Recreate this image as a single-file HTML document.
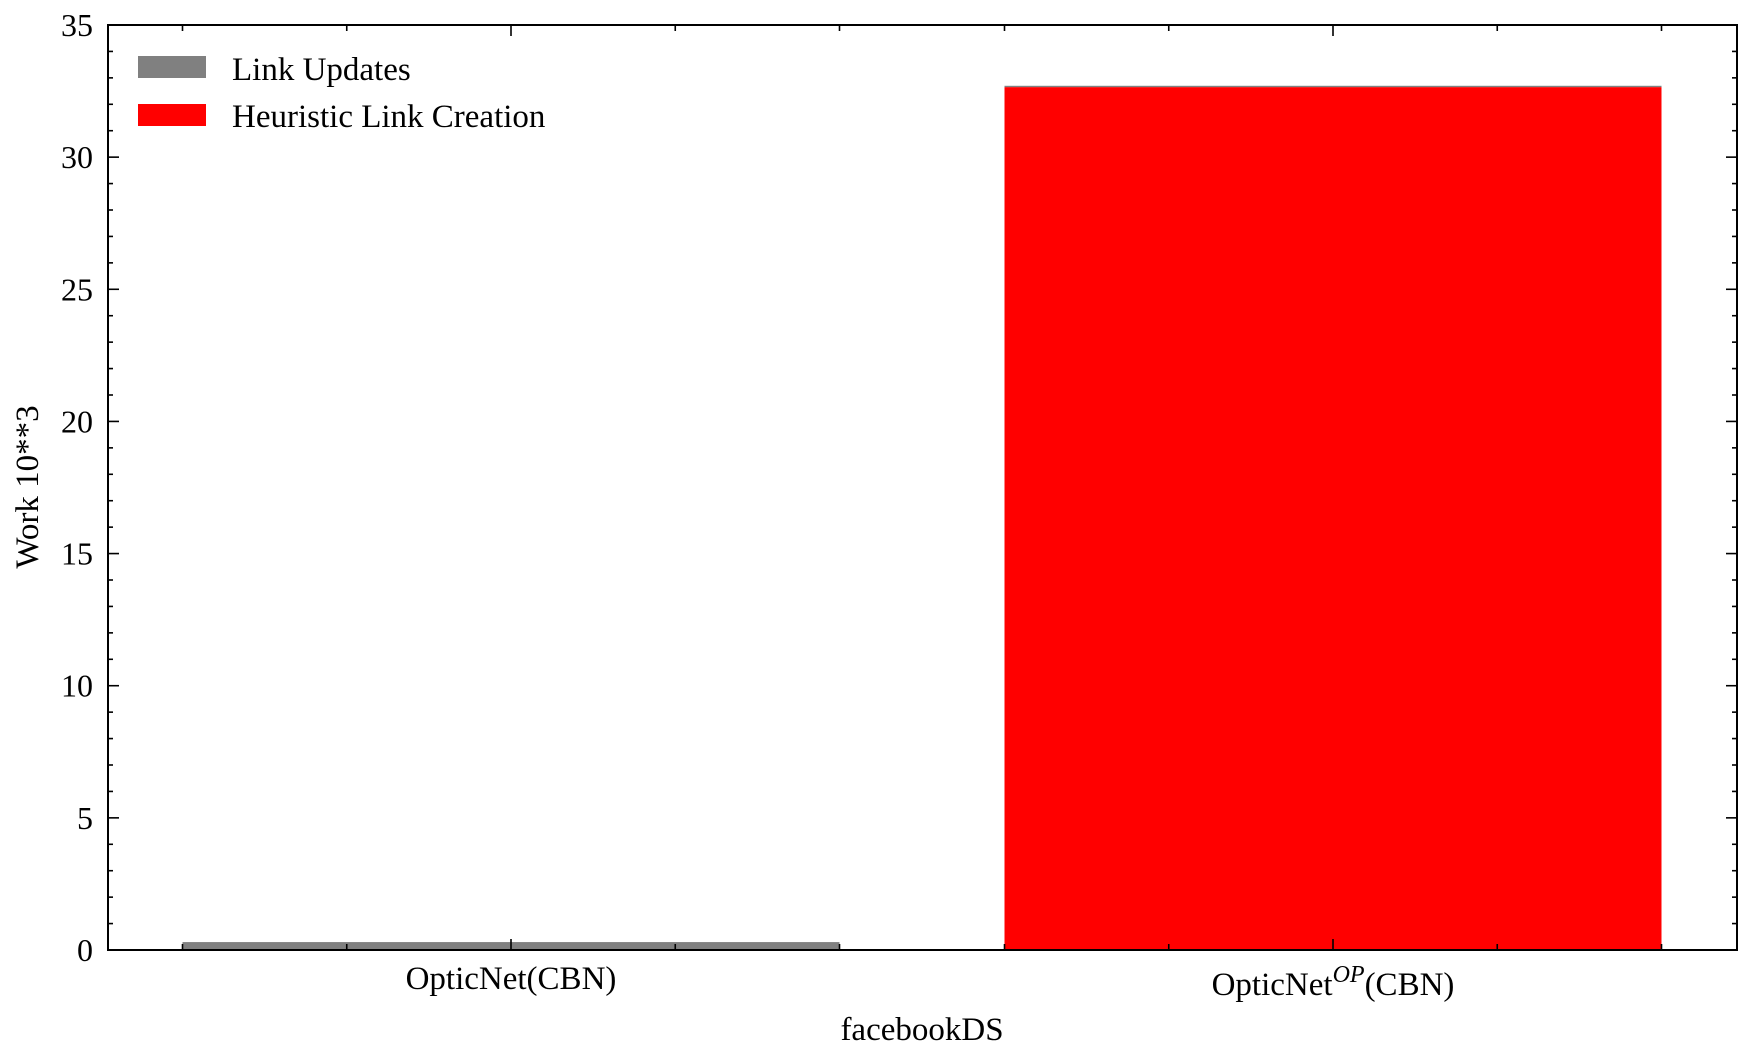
<!DOCTYPE html>
<html><head><meta charset="utf-8"><style>
html,body{margin:0;padding:0;background:#fff}
svg{display:block}
text{font-family:"Liberation Serif",serif;fill:#000}
</style></head><body>
<svg id="chart" width="1751" height="1062" viewBox="0 0 1751 1062" xmlns="http://www.w3.org/2000/svg"></svg>
<script>
const categories = ["OpticNet(CBN)", "OpticNet^OP(CBN)"];
const heuristicLinkCreation = [0, 32.65];
const linkUpdates = [0.3, 0.05];
const yTicks = [0, 5, 10, 15, 20, 25, 30, 35];

const svg = document.getElementById('chart');
const NS = 'http://www.w3.org/2000/svg';
const L = 108, R = 1737, T = 25, B = 950;
const yMax = 35;
const y = v => B - (v / yMax) * (B - T);
const barW = 657;
const xc = i => 511 + i * 822;

function mk(tag, attrs, parent) {
  const e = document.createElementNS(NS, tag);
  for (const k in attrs) e.setAttribute(k, attrs[k]);
  (parent || svg).appendChild(e);
  return e;
}

categories.forEach((c, i) => {
  const h = heuristicLinkCreation[i], u = linkUpdates[i];
  const x0 = xc(i) - barW / 2;
  if (h > 0) {
    const r = mk('rect', {x: x0, y: y(h), width: barW, height: y(0) - y(h), fill: '#ff0000'});
    
    
  }
  const g = mk('rect', {x: x0, y: y(h + u), width: barW, height: y(h) - y(h + u), fill: '#808080'});
  
  
});

const fr = mk('rect', {x: L, y: T, width: R - L, height: B - T, fill: 'none', stroke: '#000', 'stroke-width': 2});



for (let v = 0; v <= yMax; v++) {
  const major = v % 5 === 0;
  const len = major ? 11 : 5;
  mk('line', {x1: L, x2: L + len, y1: y(v), y2: y(v), stroke: '#000', 'stroke-width': 1.6});
  mk('line', {x1: R, x2: R - len, y1: y(v), y2: y(v), stroke: '#000', 'stroke-width': 1.6});
}
yTicks.forEach(v => {
  const t = mk('text', {x: 93, y: y(v) + 11, 'text-anchor': 'end', 'font-size': 32});
  t.textContent = v;
  
  
});

categories.forEach((c, i) => {
  const cx = xc(i);
  [-2, -1, 0, 1, 2].forEach(k => {
    const xx = cx + k * barW / 4;
    const len = k === 0 ? 11 : 6;
    mk('line', {x1: xx, x2: xx, y1: B, y2: B - len, stroke: '#000', 'stroke-width': 1.6});
    mk('line', {x1: xx, x2: xx, y1: T, y2: T + len, stroke: '#000', 'stroke-width': 1.6});
  });
});

const xl0 = mk('text', {x: xc(0), y: 989, 'text-anchor': 'middle', 'font-size': 33});
xl0.textContent = 'OpticNet(CBN)';


const xl1 = mk('text', {x: xc(1), y: 995, 'text-anchor': 'middle', 'font-size': 33});


const s1 = mk('tspan', {}, xl1); s1.textContent = 'OpticNet';
const s2 = mk('tspan', {dy: -13, 'font-size': 24, 'font-style': 'italic'}, xl1); s2.textContent = 'OP';
const s3 = mk('tspan', {dy: 13}, xl1); s3.textContent = '(CBN)';

const xt = mk('text', {x: 922, y: 1040, 'text-anchor': 'middle', 'font-size': 33});
xt.textContent = 'facebookDS';



const yt = mk('text', {x: 0, y: 0, 'text-anchor': 'middle', 'font-size': 33, transform: 'translate(38,487) rotate(-90)'});
yt.textContent = 'Work 10**3';



const lg = mk('g', {});


const r1 = mk('rect', {x: 138, y: 56, width: 68, height: 22, fill: '#808080'}, lg);


const t1 = mk('text', {x: 232, y: 80, 'font-size': 33}, lg);
t1.textContent = 'Link Updates';


const r2 = mk('rect', {x: 138, y: 104, width: 68, height: 22, fill: '#ff0000'}, lg);


const t2 = mk('text', {x: 232, y: 127, 'font-size': 33}, lg);
t2.textContent = 'Heuristic Link Creation';


</script>
</body></html>
